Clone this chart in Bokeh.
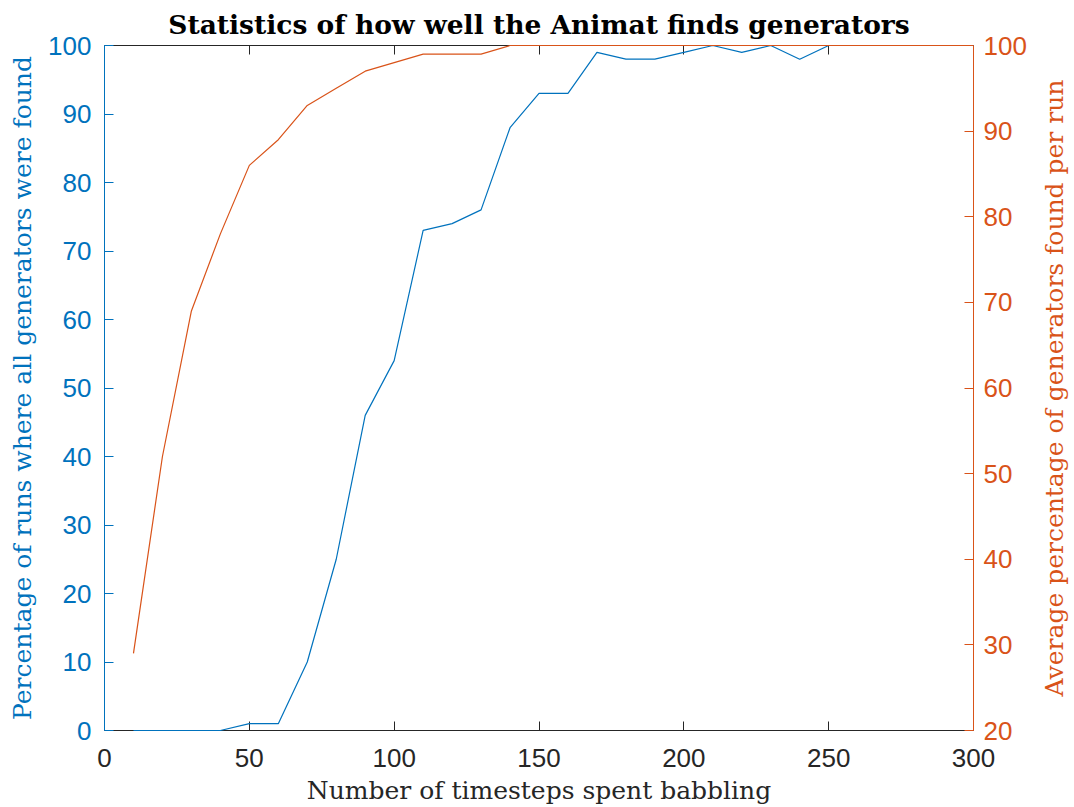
import math
from bokeh.plotting import figure
from bokeh.models import LinearAxis, Range1d, FixedTicker, Label
from bokeh.layouts import row
from bokeh.embed import file_html
from bokeh.resources import INLINE

# Data
steps = [10, 20, 30, 40, 50, 60, 70, 80, 90, 100, 110, 120, 130, 140, 150,
         160, 170, 180, 190, 200, 210, 220, 230, 240, 250, 260, 270, 280, 290, 300]
pct_all_found = [0, 0, 0, 0, 1, 1, 10, 25, 46, 54, 73, 74, 76, 88, 93,
                 93, 99, 98, 98, 99, 100, 99, 100, 98, 100, 100, 100, 100, 100, 100]
avg_pct_found = [29, 52, 69, 78, 86, 89, 93, 95, 97, 98, 99, 99, 99, 100, 100,
                 100, 100, 100, 100, 100, 100, 100, 100, 100, 100, 100, 100, 100, 100, 100]
x_ticks = [0, 50, 100, 150, 200, 250, 300]
left_ticks = [0, 10, 20, 30, 40, 50, 60, 70, 80, 90, 100]
right_ticks = [20, 30, 40, 50, 60, 70, 80, 90, 100]

BLUE = "#0072BD"
ORANGE = "#D95319"
DARK = "#262626"
TICK_FONT = "Liberation Sans"
SERIF = "DejaVu Serif"
LABEL_SIZE = "25px"
TICK_SIZE = "26px"

x_lo, x_hi = x_ticks[0], x_ticks[-1]
yl_lo, yl_hi = left_ticks[0], left_ticks[-1]
yr_lo, yr_hi = right_ticks[0], right_ticks[-1]
right_range = Range1d(yr_lo, yr_hi)

p = figure(width=1034, height=807, output_backend="svg", toolbar_location=None,
           x_range=Range1d(x_lo, x_hi), y_range=Range1d(yl_lo, yl_hi),
           min_border_left=104, min_border_right=61, min_border_top=45, min_border_bottom=77)
p.title.text = "Statistics of how well the Animat finds generators"
p.title.align = "center"
p.title.vertical_align = "bottom"
p.title.text_font = SERIF
p.title.text_font_style = "bold"
p.title.text_font_size = "26.5px"
p.title.text_color = "black"
p.title.offset = 0
p.title.standoff = 11

p.grid.visible = False
p.outline_line_color = None
p.background_fill_color = "white"
p.border_fill_color = "white"

p.extra_y_ranges = {"right": right_range}

# bottom axis
xa = p.xaxis[0]
xa.ticker = FixedTicker(ticks=x_ticks)
xa.axis_line_color = DARK
xa.major_tick_line_color = DARK
xa.major_tick_in = 9
xa.major_tick_out = 0
xa.minor_tick_line_color = None
xa.major_label_text_font = TICK_FONT
xa.major_label_text_font_size = TICK_SIZE
xa.major_label_text_color = DARK
xa.major_label_standoff = 18
xa.axis_label = "Number of timesteps spent babbling"
xa.axis_label_text_font = SERIF
xa.axis_label_text_font_style = "normal"
xa.axis_label_text_font_size = LABEL_SIZE
xa.axis_label_text_color = DARK
xa.axis_label_standoff = 6

# top box axis (ticks only)
ta = LinearAxis(ticker=FixedTicker(ticks=x_ticks))
ta.axis_line_color = DARK
ta.major_tick_line_color = DARK
ta.major_tick_in = 9
ta.major_tick_out = 0
ta.minor_tick_line_color = None
ta.major_label_text_color = None
ta.major_label_standoff = 0
p.add_layout(ta, "above")

# left axis
ya = p.yaxis[0]
ya.ticker = FixedTicker(ticks=left_ticks)
ya.axis_line_color = BLUE
ya.major_tick_line_color = BLUE
ya.major_tick_in = 9
ya.major_tick_out = 0
ya.minor_tick_line_color = None
ya.major_label_text_font = TICK_FONT
ya.major_label_text_font_size = TICK_SIZE
ya.major_label_text_color = BLUE
ya.major_label_standoff = 13
ya.axis_label = "Percentage of runs where all generators were found"
ya.axis_label_text_font = SERIF
ya.axis_label_text_font_style = "normal"
ya.axis_label_text_font_size = LABEL_SIZE
ya.axis_label_text_color = BLUE
ya.axis_label_standoff = 8

# right axis
ra = LinearAxis(y_range_name="right", ticker=FixedTicker(ticks=right_ticks))
ra.axis_line_color = ORANGE
ra.major_tick_line_color = ORANGE
ra.major_tick_in = 9
ra.major_tick_out = 0
ra.minor_tick_line_color = None
ra.major_label_text_font = TICK_FONT
ra.major_label_text_font_size = TICK_SIZE
ra.major_label_text_color = ORANGE
ra.major_label_standoff = 10
p.add_layout(ra, "right")

p.line(steps, pct_all_found, line_color=BLUE, line_width=1.2, level="overlay")
p.line(steps, avg_pct_found, line_color=ORANGE, line_width=1.2, y_range_name="right", level="overlay")

# narrow strip holding the right axis title (reads bottom-to-top)
p2 = figure(width=40, height=807, output_backend="svg", toolbar_location=None,
            x_range=Range1d(0, 1), y_range=right_range,
            x_axis_location=None, y_axis_location=None,
            min_border_left=0, min_border_right=0, min_border_top=45, min_border_bottom=77)
for g in p2.grid:
    g.visible = False
p2.outline_line_color = None
p2.background_fill_color = "white"
p2.border_fill_color = "white"
p2.add_layout(Label(x=0.5, y=(yr_lo + yr_hi) / 2, angle=math.pi / 2,
                    text="Average percentage of generators found per run",
                    text_font=SERIF, text_font_size=LABEL_SIZE, text_color=ORANGE,
                    text_align="center", text_baseline="middle"))

layout = row(p, p2)
open("out.html", "w").write(file_html(layout, INLINE))
